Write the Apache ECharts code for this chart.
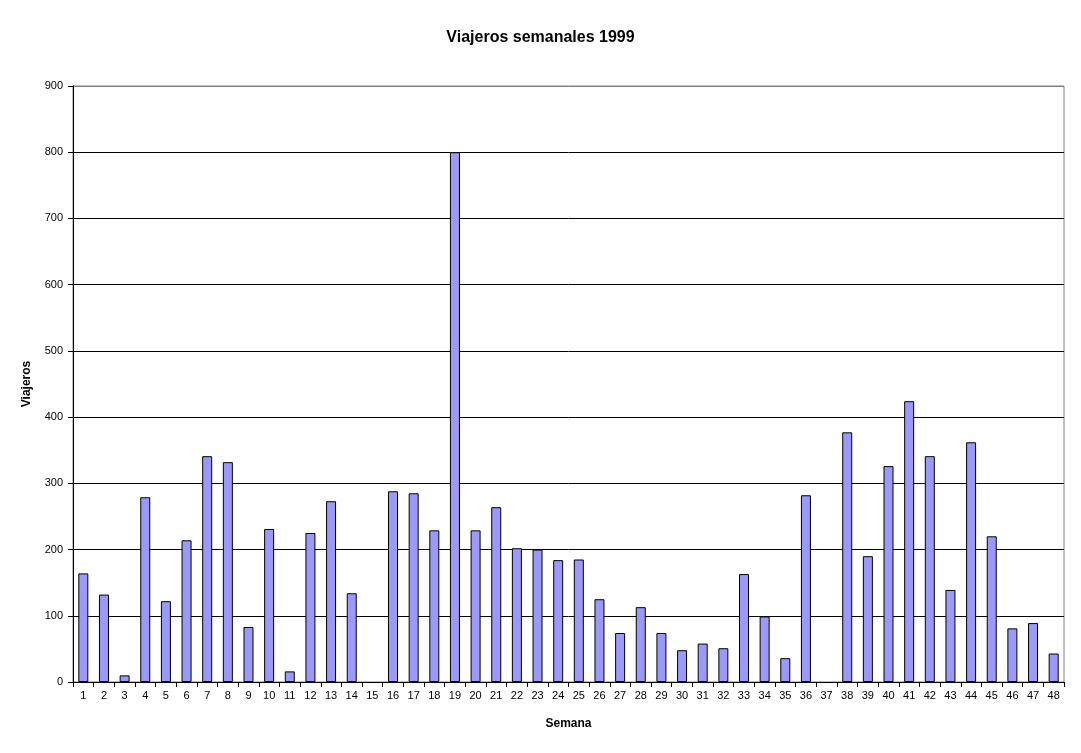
<!DOCTYPE html>
<html>
<head>
<meta charset="utf-8">
<script src="https://cdn.jsdelivr.net/npm/echarts@6/dist/echarts.min.js"></script>
<style>
  html, body { margin: 0; padding: 0; background: #fff; }
  #chart { width: 1081px; height: 753px; }
</style>
</head>
<body>
<div id="chart"></div>
<script>
const semanas = Array.from({ length: 48 }, (_, i) => String(i + 1))
const viajeros = [
  164, 132, 10, 279, 122, 214, 341, 332, 83, 231,
  16, 225, 273, 134, 0, 288, 285, 229, 800, 229,
  264, 202, 200, 184, 185, 125, 74, 113, 74, 48,
  58, 51, 163, 99, 36, 282, 0, 377, 190, 326,
  424, 341, 139, 362, 220, 81, 89, 43
]
const yTicks = [0, 100, 200, 300, 400, 500, 600, 700, 800, 900]

const font = 'Arial, "Liberation Sans", sans-serif'
const chart = echarts.init(document.getElementById('chart'))

// zero weeks: no bar outline, like the original
const barData = viajeros.map((v) =>
  v === 0 ? { value: v, itemStyle: { borderWidth: 0 } } : v
)

const option = {
  animation: false,
  backgroundColor: '#fff',
  title: {
    text: 'Viajeros semanales 1999',
    left: 'center',
    top: 25,
    textStyle: { fontFamily: font, fontSize: 16, fontWeight: 'bold', color: '#000' }
  },
  grid: {
    left: 73,
    right: 17,
    top: 86,
    bottom: 71,
    show: true,
    borderColor: '#808080',
    borderWidth: 1
  },
  xAxis: {
    type: 'category',
    data: semanas,
    name: 'Semana',
    nameLocation: 'middle',
    nameGap: 36,
    nameTextStyle: { fontFamily: font, fontSize: 12, fontWeight: 'bold', color: '#000' },
    axisLine: { lineStyle: { color: '#000', width: 1 } },
    axisTick: { show: true, length: 5, lineStyle: { color: '#000' } },
    axisLabel: { fontFamily: font, fontSize: 11, color: '#000', interval: 0, margin: 8 },
    splitLine: { show: false }
  },
  yAxis: {
    type: 'value',
    min: yTicks[0],
    max: yTicks[yTicks.length - 1],
    interval: 100,
    name: 'Viajeros',
    nameLocation: 'middle',
    nameGap: 40,
    nameRotate: 90,
    nameTextStyle: { fontFamily: font, fontSize: 12, fontWeight: 'bold', color: '#000' },
    axisLine: { show: true, lineStyle: { color: '#000', width: 1 } },
    axisTick: { show: true, length: 5, lineStyle: { color: '#000' } },
    axisLabel: { fontFamily: font, fontSize: 11, color: '#000', margin: 10 },
    splitLine: {
      show: true,
      lineStyle: {
        color: yTicks.map((v) => (v === 900 ? '#808080' : '#000')),
        width: 1
      }
    }
  },
  series: [
    {
      name: 'Viajeros',
      type: 'bar',
      data: barData,
      barWidth: 10,
      itemStyle: {
        color: '#9999FF',
        borderColor: '#000',
        borderWidth: 1
      }
    }
  ]
}

chart.setOption(option)
</script>
</body>
</html>
